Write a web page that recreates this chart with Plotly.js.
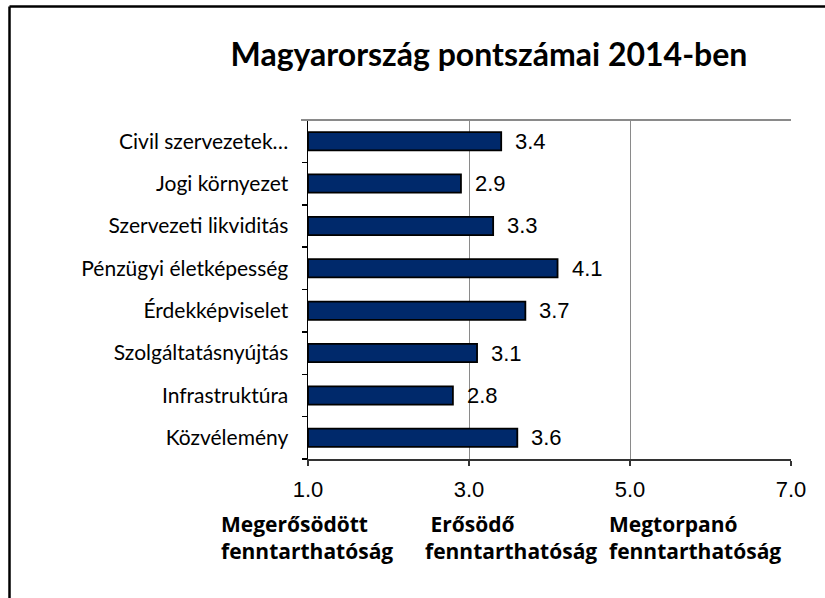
<!DOCTYPE html>
<html>
<head>
<meta charset="utf-8">
<script src="https://cdn.plot.ly/plotly-3.0.1.min.js"></script>
<style>
html,body{margin:0;padding:0;background:#fff;}
#chart{width:825px;height:598px;}
</style>
</head>
<body>
<div id="chart"></div>
<script>
// Data
const categories = ["Civil szervezetek…", "Jogi környezet", "Szervezeti likviditás", "Pénzügyi életképesség",
  "Érdekképviselet", "Szolgáltatásnyújtás", "Infrastruktúra", "Közvélemény"];
const scores = [3.4, 2.9, 3.3, 4.1, 3.7, 3.1, 2.8, 3.6];
const xTickVals = [1, 3, 5, 7];
const xTickText = ["1.0", "3.0", "5.0", "7.0"];
const stageLabels = ["Megerősödött<br>fenntarthatóság", "\u00a0Erősödő<br>fenntarthatóság", "Megtorpanó<br>fenntarthatóság"];
const titleText = "Magyarország pontszámai 2014-ben";

const W = 825, H = 598;
const M = {l: 308, r: 34, t: 120, b: 139};
const pw = W - M.l - M.r, ph = H - M.t - M.b;
const px = v => (v - M.l) / pw;           // pixel x -> paper x
const py = v => 1 - (v - M.t) / ph;       // pixel y -> paper y

const labelFont = "Lato, 'Open Sans', sans-serif";
const boldFont = "'Open Sans', Lato, sans-serif";
const numFont = "'Liberation Sans', Arial, sans-serif";

const trace = {
  type: "bar",
  orientation: "h",
  y: categories,
  x: scores.map(v => v - 1),
  base: 1,
  width: 0.43,
  marker: {color: "#00296b", line: {color: "#000", width: 1.8}},
  hoverinfo: "skip"
};

const annotations = scores.map((v, i) => ({
  x: v, y: categories[i], xref: "x", yref: "y",
  text: v.toFixed(1), showarrow: false, xanchor: "left", xshift: 12,
  font: {family: numFont, size: 22, color: "#000"}
}));

const stageX = [219, 423, 607];
stageLabels.forEach((t, i) => {
  annotations.push({
    x: px(stageX[i]), xref: "paper", y: py(537), yref: "paper",
    text: "<b>" + t.replace("<br>", "</b><br><b>") + "</b>", showarrow: false,
    xanchor: "left", yanchor: "middle", align: "left",
    font: {family: boldFont, size: 21, color: "#000"}
  });
});

const layout = {
  width: W, height: H,
  margin: M,
  paper_bgcolor: "#fff", plot_bgcolor: "#fff",
  showlegend: false,
  title: {
    text: "<b>" + titleText + "</b>",
    x: 489 / W, xanchor: "center", xref: "container",
    y: 1 - 55 / H, yanchor: "middle", yref: "container",
    font: {family: labelFont, size: 32, color: "#000"}
  },
  xaxis: {
    range: [1, 7],
    tickvals: xTickVals, ticktext: xTickText,
    ticks: "outside", ticklen: 5, tickcolor: "#333", tickwidth: 1.5,
    showline: true, linecolor: "#333", linewidth: 1.5,
    showgrid: true, gridcolor: "#8a8a8a", gridwidth: 1,
    zeroline: false,
    tickfont: {family: numFont, size: 22, color: "#000"},
    ticklabelstandoff: 5,
    fixedrange: true
  },
  yaxis: {
    type: "category",
    categoryorder: "array", categoryarray: categories.slice().reverse(),
    autorange: false, range: [-0.5, 7.5],
    ticks: "outside", ticklen: 5, tickcolor: "#000", tickwidth: 1.5,
    tickson: "boundaries",
    showline: true, linecolor: "#000", linewidth: 1.5,
    showgrid: false, zeroline: false,
    tickfont: {family: labelFont, size: 21, color: "#000"},
    ticklabelstandoff: 14,
    fixedrange: true
  },
  annotations: annotations,
  shapes: [
    // top plot border (gray)
    {type: "line", xref: "paper", yref: "paper", x0: px(301), x1: 1, y0: 1, y1: 1,
     line: {color: "#8a8a8a", width: 2}},
    // outer frame (left and top edges visible)
    {type: "line", xref: "paper", yref: "paper", x0: px(9.5), x1: px(830), y0: py(6.5), y1: py(6.5),
     line: {color: "#000", width: 2.5}},
    {type: "line", xref: "paper", yref: "paper", x0: px(9.5), x1: px(9.5), y0: py(6.5), y1: py(605),
     line: {color: "#000", width: 2.5}}
  ]
};

Plotly.newPlot("chart", [trace], layout, {displayModeBar: false, staticPlot: true});
</script>
</body>
</html>
